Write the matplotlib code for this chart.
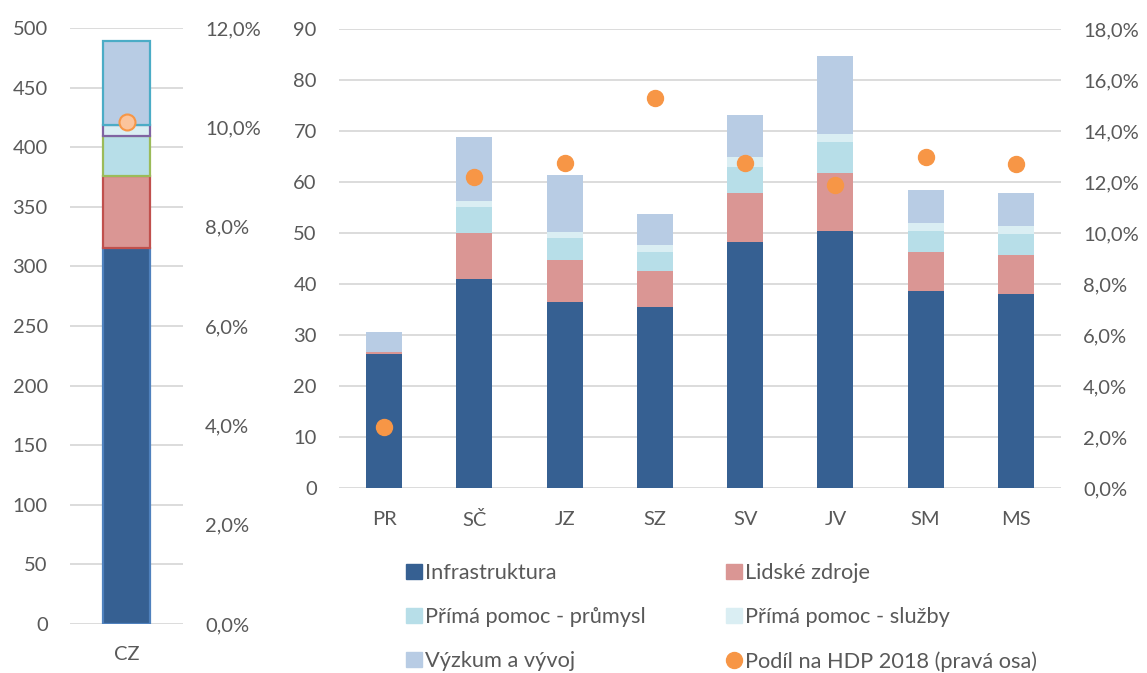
import matplotlib
matplotlib.use("Agg")
import matplotlib.pyplot as plt
from matplotlib.lines import Line2D
from matplotlib.patches import Patch
from matplotlib.ticker import FuncFormatter, MultipleLocator

plt.rcParams["font.family"] = ["Lato", "DejaVu Sans"]

# celkem za ČR (levý graf)
cz_infra = 315.4
cz_lidske = 60.6
cz_prumysl = 33.6
cz_sluzby = 8.8
cz_vyzkum = 70.6
cz_hdp = 10.1

# kraje / regiony (pravý graf)
regiony = ["PR", "SČ", "JZ", "SZ", "SV", "JV", "SM", "MS"]
infra = [26.3, 41.1, 36.6, 35.6, 48.3, 50.5, 38.7, 38.1]
lidske = [0.4, 9.0, 8.1, 7.0, 9.6, 11.2, 7.7, 7.6]
prumysl = [0.0, 5.0, 4.4, 3.7, 5.1, 6.2, 4.1, 4.2]
sluzby = [0.0, 1.2, 1.1, 1.4, 1.9, 1.5, 1.5, 1.5]
vyzkum = [4.0, 12.5, 11.2, 6.1, 8.2, 15.4, 6.5, 6.4]
hdp = [2.4, 12.2, 12.75, 15.3, 12.75, 11.9, 13.0, 12.7]

nazvy = ["Infrastruktura", "Lidské zdroje", "Přímá pomoc - průmysl",
         "Přímá pomoc - služby", "Výzkum a vývoj"]
barvy = ["#366092", "#DA9694", "#B7DEE8", "#DAEEF3", "#B8CCE4"]
okraje_cz = ["#4F81BD", "#C0504D", "#9BBB59", "#8064A2", "#4BACC6"]
oranzova = "#F79646"
seda = "#595959"
mrizka = "#D9D9D9"
FS = 14.5
FS_LEG = 15.7

W, H = 1147, 673
fig = plt.figure(figsize=(W / 100, H / 100), dpi=100)


def pct(v, pos):
    return f"{v:.1f}".replace(".", ",") + "%"


def styl(a, b):
    for osa in (a, b):
        for s in osa.spines.values():
            s.set_visible(False)
        osa.tick_params(length=0, labelsize=FS, labelcolor=seda, pad=16)
    a.yaxis.grid(True, color=mrizka, linewidth=1.3)
    a.set_axisbelow(True)
    b.yaxis.set_major_formatter(FuncFormatter(pct))


# --- levý graf: CZ ---
ax1 = fig.add_axes([70 / W, 49 / H, 113 / W, 596 / H])
ax1b = ax1.twinx()
dno = 0
for val, c, e in zip([cz_infra, cz_lidske, cz_prumysl, cz_sluzby, cz_vyzkum],
                     barvy, okraje_cz):
    ax1.bar(0, val, bottom=dno, width=0.41, color=c, edgecolor=e, linewidth=1.6)
    dno += val
ax1.set_xlim(-0.5, 0.5)
ax1.set_ylim(0, 500)
ax1.yaxis.set_major_locator(MultipleLocator(50))
ax1.set_xticks([0])
ax1.set_xticklabels(["CZ"])
ax1b.plot(0, cz_hdp, "o", markersize=11.5, markerfacecolor="#FBC49C",
          markeredgecolor=oranzova, markeredgewidth=1.5)
ax1b.set_ylim(0, 12)
ax1b.yaxis.set_major_locator(MultipleLocator(2))
styl(ax1, ax1b)

# --- pravý graf: regiony ---
ax2 = fig.add_axes([339 / W, 184.7 / H, 722 / W, 459.3 / H])
ax2b = ax2.twinx()
x = range(len(regiony))
dno = [0.0] * len(regiony)
for serie, c in zip([infra, lidske, prumysl, sluzby, vyzkum], barvy):
    ax2.bar(x, serie, bottom=dno, width=0.4, color=c)
    dno = [d + v for d, v in zip(dno, serie)]
ax2.set_xlim(-0.5, len(regiony) - 0.5)
ax2.set_ylim(0, 90)
ax2.yaxis.set_major_locator(MultipleLocator(10))
ax2.set_xticks(list(x))
ax2.set_xticklabels(regiony)
ax2b.plot(list(x), hdp, "o", linestyle="none", markersize=11.5,
          color=oranzova)
ax2b.set_ylim(0, 18)
ax2b.yaxis.set_major_locator(MultipleLocator(2))
styl(ax2, ax2b)

# legenda (sloupce plněné shora dolů)
h = [Patch(color=c) for c in barvy]
h.append(Line2D([], [], marker="o", linestyle="none", markersize=11.5,
                color=oranzova))
popisky = nazvy + ["Podíl na HDP 2018 (pravá osa)"]
poradi = [0, 2, 4, 1, 3, 5]
fig.legend([h[i] for i in poradi], [popisky[i] for i in poradi],
           loc="upper left", bbox_to_anchor=(406 / W, 1 - 563 / H),
           ncol=2, frameon=False, fontsize=FS_LEG, labelcolor=seda,
           handlelength=0.72, handleheight=0.72, handletextpad=0.15,
           columnspacing=3.7, labelspacing=1.1, borderpad=0,
           borderaxespad=0)

fig.savefig("out.png", dpi=100, facecolor="white")
